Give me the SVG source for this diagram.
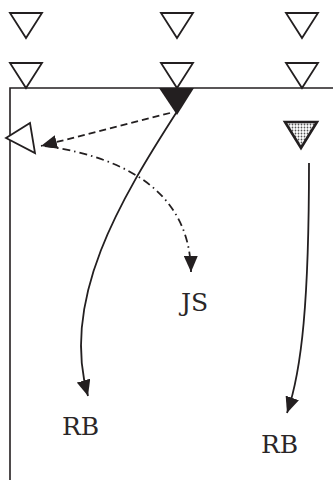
<svg xmlns="http://www.w3.org/2000/svg" width="333" height="484" viewBox="0 0 333 484">
<style>
.tri{fill:#fff;stroke:#231f20;stroke-width:1.8;stroke-linejoin:miter}
.frame{fill:none;stroke:#231f20;stroke-width:1.6}
.con{fill:none;stroke:#231f20;stroke-width:1.8}
.dash{stroke-dasharray:7 4}
.dashdot{stroke-dasharray:8 4 1.5 4}
.lbl{font-family:"DejaVu Serif","Liberation Serif",serif;font-size:25px;font-weight:normal;fill:#2a2627}
</style>
<defs>
<marker id="ah" markerUnits="userSpaceOnUse" markerWidth="18" markerHeight="14" refX="16" refY="7" orient="auto">
<path d="M0,0 L16,7 L0,14 z" fill="#231f20"/>
</marker>
<pattern id="dots" patternUnits="userSpaceOnUse" width="3" height="3">
<rect width="3" height="3" fill="#fff"/>
<circle cx="1.5" cy="1.5" r="0.9" fill="#555"/>
</pattern>
</defs>
<g id="frame">
<path class="frame" d="M10,480 V88 H333"/>
</g>
<g id="row1">
<path class="tri" d="M10,13 H42 L26,38 Z"/>
<path class="tri" d="M161,13 H193 L177,38 Z"/>
<path class="tri" d="M286,13 H318 L302,38 Z"/>
</g>
<g id="row2">
<path class="tri" d="M10,63 H42 L26,88 Z"/>
<path class="tri" d="M161,63 H193 L177,88 Z"/>
<path class="tri" d="M286,63 H318 L302,88 Z"/>
</g>
<g id="filled-triangle">
<path d="M159,88 H194 L177,115 Z" fill="#231f20"/>
</g>
<g id="shaded-triangle">
<path d="M285,122 H317 L301,148 Z" fill="url(#dots)" stroke="#231f20" stroke-width="2.6"/>
</g>
<g id="side-triangle">
<path class="tri" d="M6,138 L30,123 L35,153 Z" stroke-width="2"/>
</g>
<g id="connectors">
<path class="con dash" d="M170,113 L41,146" marker-end="url(#ah)"/>
<path class="con dashdot" d="M45,146 C130,158 190,195 191,272" marker-end="url(#ah)"/>
<path class="con" d="M178,110 C120,200 60,300 88,396" marker-end="url(#ah)"/>
<path class="con" d="M309,163 C309,300 302,370 287,413" marker-end="url(#ah)"/>
</g>
<g id="label-js"><text class="lbl" x="181" y="311">JS</text></g>
<g id="label-rb1"><text class="lbl" x="62" y="435">RB</text></g>
<g id="label-rb2"><text class="lbl" x="261" y="453">RB</text></g>
</svg>
